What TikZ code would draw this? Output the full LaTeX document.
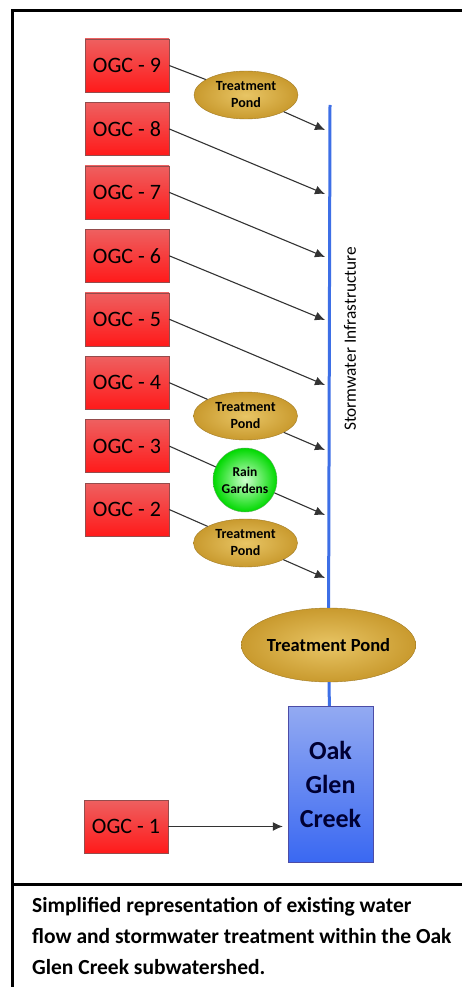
\documentclass[tikz,border=0pt]{standalone}
\usepackage{fontspec}
\setmainfont{Carlito}
\usetikzlibrary{arrows.meta,shapes.geometric}

\definecolor{boxred}{HTML}{FF1A1A}
\definecolor{boxpink}{HTML}{EE6060}
\definecolor{pondgold}{HTML}{C99A2E}
\definecolor{pondlight}{HTML}{E8C565}
\definecolor{pipeblue}{HTML}{3D6FE6}
\definecolor{creektop}{HTML}{93AAF2}
\definecolor{creekbot}{HTML}{3A68F2}

\begin{document}
\begin{tikzpicture}[
  x=1pt, y=1pt,
  block/.style={rectangle, draw=red!40!black!70, top color=boxpink, bottom color=boxred,
    minimum width=84pt, minimum height=53pt, inner sep=0pt, font=\fontsize{22}{24}\selectfont},
  pond/.style={ellipse, draw=pondgold!80!black, inner color=pondlight, outer color=pondgold,
    minimum width=104pt, minimum height=48pt, inner sep=0pt, align=center,
    font=\bfseries\fontsize{14}{17}\selectfont},
  flow/.style={-{Latex[length=10pt,width=9pt]}, draw=black!80, line width=1.1pt},
  pipe/.style={draw=pipeblue, line width=3pt},
  node distance=63.43pt
]
\useasboundingbox (0,0) rectangle (462,-987);

% frame
\draw[line width=3pt] (12,-1000) -- (12,-11) -- (475,-11);
\draw[line width=3pt] (12,-884) -- (475,-884);

% subwatersheds
\node[block] (ogc9) at (127,-65.5) {OGC - 9};
\node[block, below of=ogc9] (ogc8) {OGC - 8};
\node[block, below of=ogc8] (ogc7) {OGC - 7};
\node[block, below of=ogc7] (ogc6) {OGC - 6};
\node[block, below of=ogc6] (ogc5) {OGC - 5};
\node[block, below of=ogc5] (ogc4) {OGC - 4};
\node[block, below of=ogc4] (ogc3) {OGC - 3};
\node[block, below of=ogc3] (ogc2) {OGC - 2};
\node[block] (ogc1) at (126,-826.5) {OGC - 1};

% treatment
\node[pond] (pond9) at (246,-95) {Treatment\\Pond};
\node[pond] (pond4) at (245.5,-416) {Treatment\\Pond};
\node[circle, draw=green!45!black!60, inner color=green!20, outer color=green!75!black!60!green,
  minimum size=64pt, inner sep=0pt, align=center,
  font=\bfseries\fontsize{13.5}{17}\selectfont] (rain3) at (245,-480) {Rain\\Gardens};
\node[pond] (pond2) at (245.5,-543) {Treatment\\Pond};
\node[pond, minimum width=157pt, minimum height=74pt, font=\bfseries\fontsize{18.5}{20}\selectfont]
  (bigpond) at (328.5,-645) {Treatment Pond};

\node[rectangle, draw=blue!50!black!70, top color=creektop, bottom color=creekbot,
  minimum width=85pt, minimum height=156pt, align=center, text=blue!20!black,
  font=\bfseries\fontsize{26}{34}\selectfont] (creek) at (330.5,-784) {Oak\\Glen\\Creek};

% stormwater pipe
\coordinate (sttop) at (330,-105);
\draw[pipe] (sttop) -- (bigpond) -- (creek);
\node[rotate=90, font=\fontsize{17.3}{20}\selectfont] (storm) at (350,-339) {Stormwater Infrastructure};

\foreach \i/\y in {9/130,8/194,7/257,6/320,5/385,4/450,3/515,2/578}
  \coordinate (in\i) at (325,-\y);

\draw[flow] (ogc9.east) -- (pond9) -- (in9);
\draw[flow] (ogc8.east) -- (in8);
\draw[flow] (ogc7.east) -- (in7);
\draw[flow] (ogc6.east) -- (in6);
\draw[flow] (ogc5.east) -- (in5);
\draw[flow] (ogc4.east) -- (pond4) -- (in4);
\draw[flow] (ogc3.east) -- (rain3) -- (in3);
\draw[flow] (ogc2.east) -- (pond2) -- (in2);
\draw[flow, shorten >=5pt] (ogc1.east) -- (ogc1.east -| creek.west);

% caption
\node[anchor=north west, align=left, inner sep=0pt, font=\bfseries\fontsize{21.5}{31}\selectfont]
  (caption) at (32,-897) {Simplified representation of existing water\\flow and stormwater treatment within the Oak\\Glen Creek subwatershed.};
\end{tikzpicture}
\end{document}
